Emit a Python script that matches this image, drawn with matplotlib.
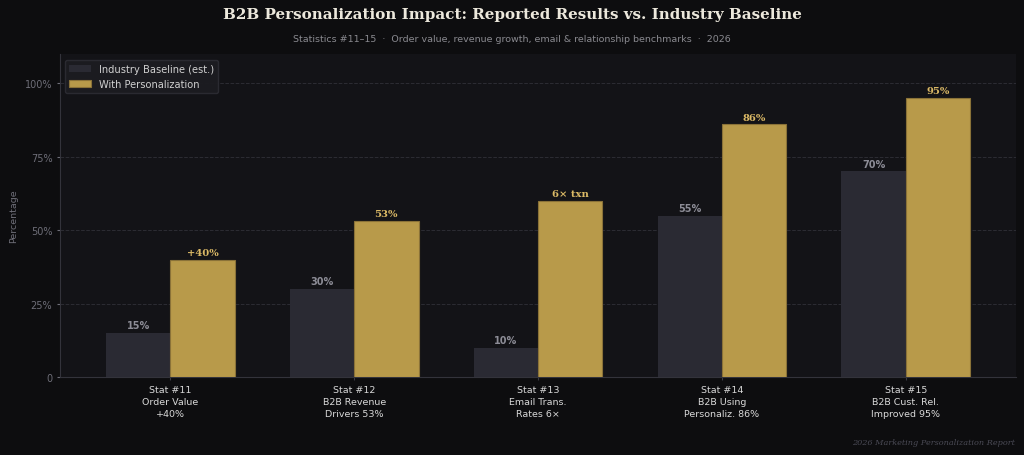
import numpy as np
import matplotlib
matplotlib.use("Agg")
import matplotlib.pyplot as plt

categories = ["Stat #11\nOrder Value\n+40%", "Stat #12\nB2B Revenue\nDrivers 53%",
              "Stat #13\nEmail Trans.\nRates 6×", "Stat #14\nB2B Using\nPersonaliz. 86%",
              "Stat #15\nB2B Cust. Rel.\nImproved 95%"]
baseline = [15, 30, 10, 55, 70]
personalized = [40, 53, 60, 86, 95]
baseline_labels = ["15%", "30%", "10%", "55%", "70%"]
personalized_labels = ["+40%", "53%", "6× txn", "86%", "95%"]

fig_bg = "#0d0d0f"
ax_bg = "#131317"
gold = "#b89a4a"
grey_bar = "#2a2a33"

fig = plt.figure(figsize=(10.24, 4.56), dpi=100, facecolor=fig_bg)
ax = fig.add_axes([60/1024, 1-378/456, (1016-60)/1024, (378-55)/456])
ax.set_facecolor(ax_bg)

x = np.arange(len(categories))
w = 0.35
b1 = ax.bar(x - w/2, baseline, w, color=grey_bar, label="Industry Baseline (est.)", zorder=3)
b2 = ax.bar(x + w/2, personalized, w, color=gold, edgecolor="#8a7238", linewidth=0.8,
            label="With Personalization", zorder=3)

for r, t in zip(b1, baseline_labels):
    ax.text(r.get_x() + r.get_width()/2, r.get_height() + 1.0, t, ha="center", va="bottom",
            color="#8c8c96", fontsize=7, fontweight="bold", zorder=4)
for r, t in zip(b2, personalized_labels):
    ax.text(r.get_x() + r.get_width()/2, r.get_height() + 1.0, t, ha="center", va="bottom",
            color="#dcba66", fontsize=7.2, fontweight="bold", family="DejaVu Serif", zorder=4)

ax.set_ylim(0, 110)
ax.set_xlim(-0.6, 4.6)
ax.set_yticks([0, 25, 50, 75, 100])
ax.set_yticklabels(["0", "25%", "50%", "75%", "100%"])
ax.set_xticks(x)
ax.set_xticklabels(categories, fontsize=6.8, color="#d8d8d8", linespacing=1.45)
ax.tick_params(axis="y", colors="#6e6e78", labelsize=7, length=2.5, pad=3)
ax.tick_params(axis="x", colors="#3a3a42", labelcolor="#d8d8d8", length=2.5, pad=3)
ax.yaxis.grid(True, linestyle="--", color="#2c2c33", linewidth=0.7, zorder=0)
ax.set_axisbelow(True)
for s in ["top", "right"]:
    ax.spines[s].set_visible(False)
for s in ["left", "bottom"]:
    ax.spines[s].set_color("#33333b")
ax.set_ylabel("Percentage", color="#6e6e78", fontsize=6.8, labelpad=5)

leg = ax.legend(loc="upper left", bbox_to_anchor=(5/956, 1 - 6/323), borderaxespad=0,
                fontsize=7.1, facecolor="#1c1c21", edgecolor="#2c2c33",
                labelcolor="#d0d0d0", handlelength=2.2)
leg.get_frame().set_alpha(0.95)

fig.text(0.5, 0.968, "B2B Personalization Impact: Reported Results vs. Industry Baseline",
         ha="center", va="center", color="#ece8dc", fontsize=10.9, fontweight="bold",
         family="DejaVu Serif")
fig.text(0.5, 0.914, "Statistics #11–15  ·  Order value, revenue growth, email & relationship benchmarks  ·  2026",
         ha="center", va="center", color="#8a8a90", fontsize=6.8)
fig.text(1015/1024, 1-443/456, "2026 Marketing Personalization Report", ha="right", va="center",
         color="#4a4a55", fontsize=5.9, style="italic", family="DejaVu Serif")

fig.savefig("out.png", dpi=100, facecolor=fig_bg)
